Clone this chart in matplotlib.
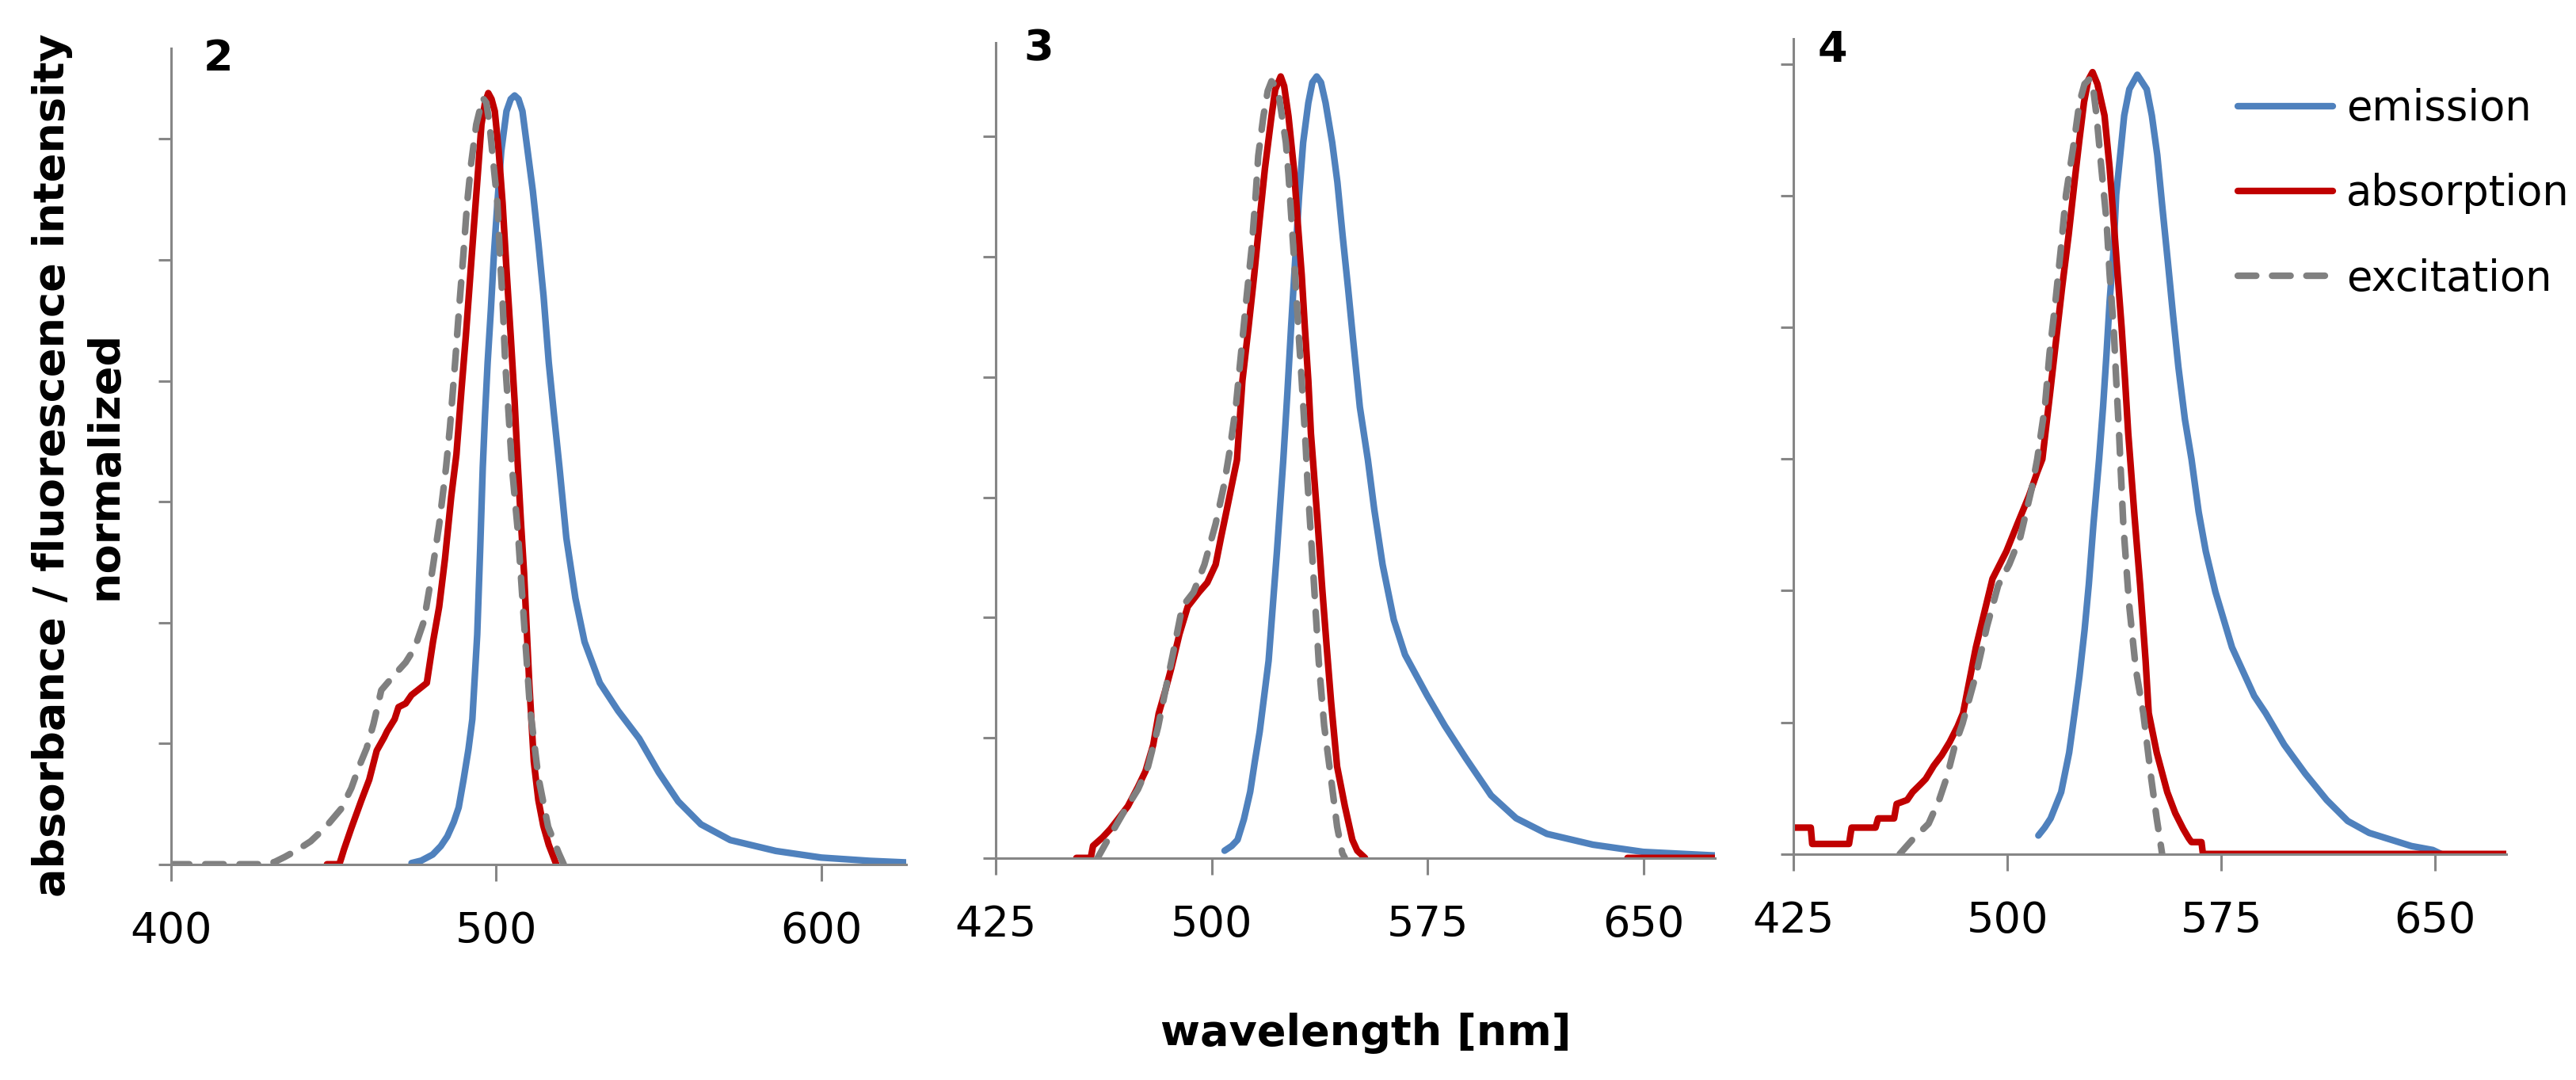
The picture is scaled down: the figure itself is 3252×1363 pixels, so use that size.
import numpy as np
import matplotlib
matplotlib.use('Agg')
import matplotlib.pyplot as plt

nan = np.nan

# panel labels and x ticks
panel_names = ['2', '3', '4']
xticks_1 = [400, 500, 600]
xticks_23 = [425, 500, 575, 650]
series_names = ['emission', 'absorption', 'excitation']

# ---- compound 2 (y in axis divisions)
em1_wl = [474, 477, 480.5, 483, 485, 487, 488.5, 490, 491.5, 492.7, 494.2, 495.1, 495.9, 496.6, 497.4,
          498.4, 499.3, 500.4, 501.6, 503.2, 504.5, 505.7, 506.9, 508.1, 509.7, 511.3, 513, 514.6,
          516.2, 517.8, 519.5, 521.6, 524.4, 527.2, 531.9, 537.5, 544, 550, 556, 563, 572, 586,
          600, 615, 626]
em1_y = [0.01, 0.03, 0.08, 0.15, 0.23, 0.35, 0.47, 0.7, 0.95, 1.2, 1.9, 2.6, 3.28, 3.72, 4.15,
         4.59, 5.03, 5.47, 5.9, 6.23, 6.33, 6.36, 6.33, 6.23, 5.9, 5.57, 5.14, 4.7,
         4.15, 3.72, 3.28, 2.7, 2.2, 1.84, 1.5, 1.27, 1.04, 0.76, 0.52, 0.33, 0.2, 0.11,
         0.055, 0.028, 0.015]
abs1_wl = [448, 451.8, 452.4, 453.2, 455.5, 458.6, 461, 463.3, 465.6, 466.5, 468.8, 470, 472.2, 474,
           475.9, 478.7, 480.6, 482.5, 484.3, 486.2, 487.8, 489.4, 490.7, 491.9, 493.1, 494.3, 495.5,
           496.6, 497.6, 498.6, 499.6, 500.8, 502, 503.2, 504.5, 505.7, 506.5, 507.6, 508.6, 510.2,
           511.6, 513, 514.5, 516.2, 518.5]
abs1_y = [0, 0, 0.05, 0.12, 0.3, 0.53, 0.7, 0.94, 1.05, 1.1, 1.2, 1.3, 1.33, 1.4,
          1.44, 1.5, 1.84, 2.13, 2.53, 3.04, 3.39, 3.94, 4.37, 4.81, 5.25, 5.68, 6.12,
          6.3, 6.38, 6.33, 6.23, 5.9, 5.47, 4.92, 4.37, 3.83, 3.39, 2.85, 2.41, 1.5,
          0.85, 0.53, 0.32, 0.16, 0]
exc1_wl = [400, 429.5, 432, 435, 439, 443, 447.7, 452.4, 455.5, 457.9, 460.2, 462.3, 464.7, 468.5,
           472.2, 475, 477.8, 480, 482.5, 484.6, 485.8, 487.4, 488.6, 489.9, 491.1, 492.3, 493.9,
           495.9, 497, 498, 499.2, 500.4, 501.2, 502, 502.8, 503.6, 504.9, 506.7, 508.6, 510.4,
           513, 516, 519.3, 520.8]
exc1_y = [0, 0, 0.02, 0.06, 0.12, 0.19, 0.31, 0.46, 0.63, 0.81, 0.96, 1.16, 1.44, 1.56,
          1.67, 1.79, 2.01, 2.36, 2.81, 3.28, 3.61, 4.15, 4.59, 5.03, 5.47, 5.79, 6.12,
          6.34, 6.3, 6.12, 5.79, 5.47, 5.03, 4.66, 4.15, 3.83, 3.28, 2.75, 2.0, 1.3,
          0.72, 0.31, 0.09, 0]

# ---- compound 3
em2_wl = [504.5, 507, 509, 511.2, 513.4, 515, 516.7, 519.8, 522.7, 524.9, 526.3, 527.6, 529, 530.4,
          531.8, 533.6, 535, 536.5, 538, 539.6, 541.9, 543.7, 545.5, 547.4, 549.2, 551.5, 554.3,
          556.5, 559.4, 563.3, 567.2, 574.9, 581, 588.3, 597.1, 605.8, 616.5, 632.5, 650, 675]
em2_y = [0.06, 0.1, 0.15, 0.32, 0.55, 0.8, 1.05, 1.64, 2.55, 3.31, 3.86, 4.41, 4.96, 5.51,
         5.95, 6.28, 6.45, 6.5, 6.45, 6.28, 5.95, 5.62, 5.18, 4.74, 4.3, 3.75, 3.31,
         2.9, 2.44, 1.98, 1.69, 1.35, 1.1, 0.83, 0.52, 0.33, 0.2, 0.11, 0.05, 0.02]
abs2_wl = [453, 458, 458.8, 462.1, 464.8, 467.4, 470.9, 474.4, 477, 479.7, 481.6, 484, 486, 488.8,
           491.7, 495.6, 498.5, 501.4, 503.3, 505.3, 507, 508.8, 510.7, 512.8, 514.8, 516.6, 518.5,
           520.8, 522.1, 524, 525.2, 526.7, 528.6, 529.9, 531.3, 532.4, 533.6, 534.5, 535.2, 536.8,
           538.4, 540, 541.5, 543.6, 546.3, 548.9, 550.6, 553.3, nan, 644.5, 675]
abs2_y = [0, 0, 0.1, 0.17, 0.24, 0.32, 0.43, 0.59, 0.72, 0.94, 1.2, 1.4, 1.58, 1.86,
          2.09, 2.21, 2.29, 2.44, 2.67, 2.9, 3.1, 3.31, 3.97, 4.41, 4.85, 5.29, 5.73,
          6.17, 6.39, 6.5, 6.42, 6.17, 5.73, 5.29, 4.85, 4.41, 3.97, 3.53, 3.31, 2.8,
          2.25, 1.75, 1.3, 0.76, 0.43, 0.15, 0.06, 0, nan, 0, 0]
exc2_wl = [460.4, 463.9, 469.2, 474.4, 477.9, 481.4, 484, 486.5, 489.8, 493.7, 497.5, 501.4, 504.3,
           506.1, 508.4, 510.2, 512, 513.9, 515.3, 516.2, 518, 519.5, 520.8, 522.2, 523.5, 525.8,
           526.7, 528.1, 529, 530.4, 531.3, 532.7, 533.3, 535.3, 537.2, 539.1, 541.7, 543.6, 545.4,
           546.3]
exc2_y = [0, 0.15, 0.37, 0.57, 0.76, 1.09, 1.4, 1.69, 2.09, 2.21, 2.44, 2.78, 3.1,
          3.36, 3.75, 4.19, 4.63, 5.07, 5.51, 5.84, 6.17, 6.38, 6.46, 6.42, 6.32, 5.95,
          5.69, 5.18, 4.85, 4.3, 3.97, 3.42, 3.13, 2.38, 1.64, 1.1, 0.62, 0.26, 0.04,
          0]

# ---- compound 4
em3_wl = [510.8, 513, 515.1, 518.8, 521.6, 523.5, 525.2, 527, 528.5, 530.1, 532.1, 533.5, 534.7,
          535.8, 537.2, 538.1, 539.5, 540.9, 542.7, 545.5, 548.8, 550.6, 552.5, 554.3, 556.2, 558,
          559.9, 562.2, 564.5, 567, 569.5, 572.9, 578.7, 586.5, 590.5, 597, 604.4, 611.9, 619.3,
          626.8, 634.2, 641.6, 649.1, 652]
em3_y = [0.14, 0.2, 0.27, 0.47, 0.77, 1.07, 1.35, 1.7, 2.05, 2.5, 3.0, 3.4, 3.8,
         4.2, 4.6, 5.01, 5.31, 5.61, 5.81, 5.92, 5.81, 5.61, 5.31, 4.91, 4.5, 4.1,
         3.7, 3.3, 3.0, 2.6, 2.3, 1.99, 1.57, 1.2, 1.07, 0.83, 0.61, 0.41, 0.25,
         0.16, 0.11, 0.06, 0.03, 0]
abs3_wl = [425, 431, 431.5, 444.4, 445.3, 453.7, 454.6, 460.2, 461.1, 464.8, 466.7, 469.5, 471.3,
           474.1, 476.9, 479.7, 482.5, 484.4, 488.9, 494.7, 499.6, 503.5, 507.5, 510.4, 512.2, 514.9,
           517, 519.1, 521.4, 523.5, 525.1, 526.8, 528.3, 529.8, 531.5, 534, 535.8, 537.2, 538.6,
           540, 541.2, 542.3, 543, 544.5, 546.5, 548.4, 549.5, 552.3, 556, 558.8, 561.6, 563.5,
           564.5, 568, 568.5, 675]
abs3_y = [0.2, 0.2, 0.076, 0.076, 0.2, 0.2, 0.27, 0.27, 0.38, 0.41, 0.47, 0.53, 0.57,
          0.67, 0.75, 0.85, 0.97, 1.07, 1.57, 2.09, 2.3, 2.51, 2.72, 2.9, 3.0, 3.5,
          3.9, 4.3, 4.7, 5.11, 5.41, 5.71, 5.88, 5.94, 5.85, 5.61, 5.21, 4.81, 4.4,
          4.0, 3.6, 3.2, 3.0, 2.57, 2.04, 1.47, 1.07, 0.77, 0.47, 0.31, 0.19, 0.12,
          0.09, 0.09, 0, 0]
exc3_wl = [462.2, 466.7, 472.3, 476, 478.8, 481.6, 484.2, 488.9, 492.8, 496.7, 500.6, 504.5, 508.4,
           510.4, 513.1, 514.7, 516.8, 518.7, 520.5, 523.3, 525.2, 527, 528.9, 530, 531.2, 532.9,
           534.7, 535.8, 537.2, 538.1, 539.1, 539.5, 540.6, 542.6, 545, 547.6, 550.4, 552.3, 554.2]
exc3_y = [0, 0.11, 0.23, 0.41, 0.59, 0.83, 0.99, 1.36, 1.73, 2.04, 2.2, 2.41, 2.77,
          3.0, 3.4, 3.8, 4.2, 4.6, 5.01, 5.41, 5.71, 5.85, 5.89, 5.82, 5.61, 5.21,
          4.81, 4.4, 4.0, 3.6, 3.2, 3.0, 2.5, 1.9, 1.4, 1.07, 0.57, 0.27, 0]

BLUE = '#4F81BD'
RED = '#C00000'
GRAY = '#808080'
AXCOL = '#868686'

W, H = 3252, 1363
fig = plt.figure(figsize=(W / 100, H / 100), dpi=100)


def px_axes(left, right, top, bottom):
    # pixel box -> figure fractions
    return [left / W, 1 - bottom / H, (right - left) / W, (bottom - top) / H]


boxes = [px_axes(215.7, 1143.6, 61, 1090.7),
         px_axes(1257.1, 2165.4, 54, 1082.7),
         px_axes(2264.4, 3164.4, 49.5, 1077.7)]
xlims = [(400, 626), (425, 675), (425, 675)]
ylims = [6.75, 6.78, 6.19]
xticks = [xticks_1, xticks_23, xticks_23]
data = [(em1_wl, em1_y, abs1_wl, abs1_y, exc1_wl, exc1_y),
        (em2_wl, em2_y, abs2_wl, abs2_y, exc2_wl, exc2_y),
        (em3_wl, em3_y, abs3_wl, abs3_y, exc3_wl, exc3_y)]

lw = 6.0
axes = []
for i in range(3):
    ax = fig.add_axes(boxes[i])
    ew, ey, aw, ay, xw, xy = data[i]
    ax.plot(ew, ey, color=BLUE, lw=lw, solid_capstyle='round', solid_joinstyle='round',
            label=series_names[0])
    ax.plot(aw, ay, color=RED, lw=lw, solid_capstyle='round', solid_joinstyle='round',
            label=series_names[1])
    ax.plot(xw, xy, color=GRAY, lw=lw, dashes=(2.8, 2.4), dash_capstyle='round',
            dash_joinstyle='round', label=series_names[2])
    ax.set_xlim(*xlims[i])
    ax.set_ylim(0, ylims[i])
    ax.set_xticks(xticks[i])
    ax.set_yticks(range(7))
    ax.set_yticklabels([])
    for s in ['top', 'right']:
        ax.spines[s].set_visible(False)
    for s in ['left', 'bottom']:
        ax.spines[s].set_color(AXCOL)
        ax.spines[s].set_linewidth(2.2)
    ax.tick_params(axis='x', direction='out', length=15, width=2.2, color=AXCOL,
                   labelsize=39, pad=27)
    ax.tick_params(axis='y', direction='out', length=11.5, width=2.2, color=AXCOL)
    ax.patch.set_alpha(0)
    axes.append(ax)

# panel numbers
label_pos = [(276, 74), (1311, 61), (2313, 63)]
for name, (x, y) in zip(panel_names, label_pos):
    fig.text(x / W, 1 - y / H, name, fontsize=39, fontweight='bold', ha='center', va='center')

# legend in last panel
axes[2].legend(loc='upper left', bbox_to_anchor=(2825 / W, 1 - 111 / H),
               bbox_transform=fig.transFigure, frameon=False, fontsize=38,
               handlelength=2.27, handletextpad=0.32, labelspacing=1.05,
               borderpad=0, borderaxespad=0)

fig.text(99 / W, 1 - 587 / H, 'absorbance / fluorescence intensity\nnormalized',
         rotation=90, ha='center', va='center', multialignment='center',
         fontsize=39, fontweight='bold', linespacing=1.35)
fig.text(1724 / W, 1 - 1304 / H, 'wavelength [nm]', ha='center', va='center',
         fontsize=39, fontweight='bold')

fig.savefig('out.png', dpi=100)
